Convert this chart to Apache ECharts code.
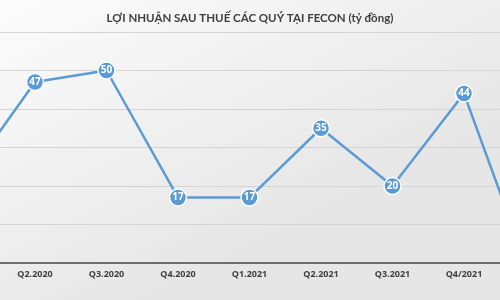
<!DOCTYPE html>
<html><head><meta charset="utf-8">
<script src="https://cdn.jsdelivr.net/npm/echarts@6/dist/echarts.min.js"></script>
<style>html,body{margin:0;padding:0;}#c{width:500px;height:300px;}</style>
</head><body><div id="c"></div>
<script>
var titleText = 'LỢI NHUẬN SAU THUẾ CÁC QUÝ TẠI FECON (tỷ đồng)';
var categories = ['Q1.2020','Q2.2020','Q3.2020','Q4.2020','Q1.2021','Q2.2021','Q3.2021','Q4/2021','Q1.2022'];
var profit = [21, 47, 50, 17, 17, 35, 20, 44, -7];
var yTicks = {min: 0, max: 60, interval: 10};

var chart = echarts.init(document.getElementById('c'), null, {renderer: 'canvas'});
chart.setOption({
  animation: false,
  backgroundColor: {
    type: 'linear', x: 0, y: 0, x2: 0.3, y2: 1,
    colorStops: [{offset: 0, color: '#fcfcfc'}, {offset: 1, color: '#e6e6e6'}]
  },
  title: {
    text: titleText, left: 'center', top: 7,
    textStyle: {fontFamily: 'Lato', fontSize: 11.5, fontWeight: 'bold', color: '#3f3f3f'}
  },
  grid: {left: -36.5, right: -35.5, top: 32, bottom: 37, containLabel: false, outerBoundsMode: 'none'},
  xAxis: {
    type: 'category', data: categories, boundaryGap: false,
    axisLine: {lineStyle: {color: '#4a4a4a', width: 1.5}},
    axisTick: {show: false},
    axisLabel: {interval: 0, margin: 7, fontFamily: 'Open Sans', fontSize: 9, fontWeight: 'bold', color: '#404040'}
  },
  yAxis: {
    type: 'value', min: yTicks.min, max: yTicks.max, interval: yTicks.interval,
    axisLabel: {show: false}, axisLine: {show: false}, axisTick: {show: false},
    splitLine: {lineStyle: {color: '#d4d4d4', width: 1}}
  },
  series: [{
    type: 'line', data: profit, clip: false,
    symbol: 'circle', symbolSize: 17,
    lineStyle: {color: '#5b9bd5', width: 2.5},
    itemStyle: {color: '#5b9bd5', borderColor: '#ffffff', borderWidth: 1.5},
    label: {show: true, position: 'inside', color: '#ffffff', fontFamily: 'Open Sans', fontSize: 10, fontWeight: 'bold'}
  }]
});
</script></body></html>
